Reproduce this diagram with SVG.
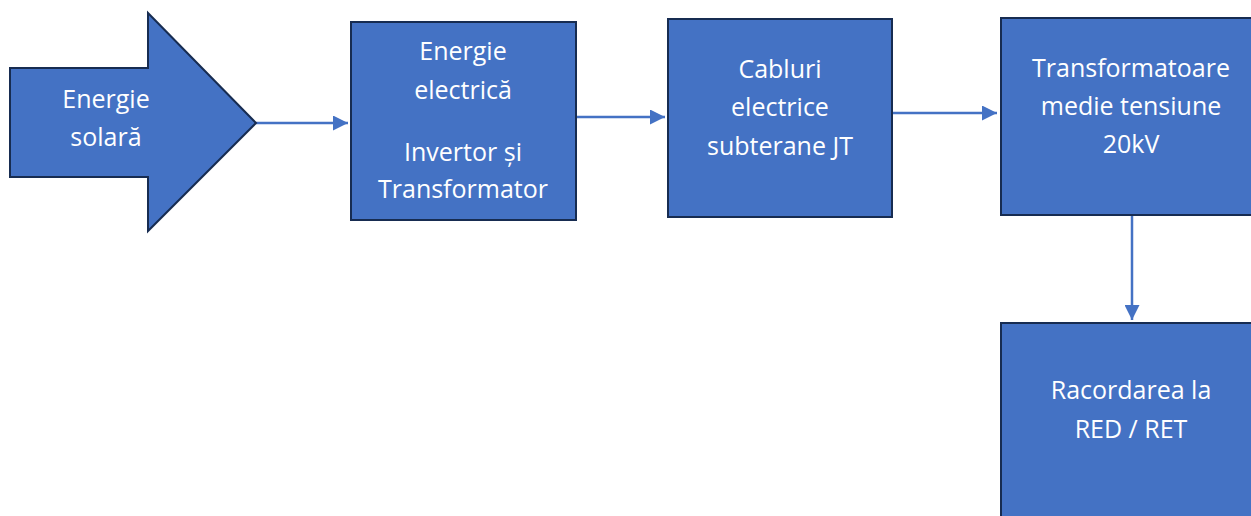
<svg xmlns="http://www.w3.org/2000/svg" width="1251" height="516" viewBox="0 0 1251 516">
<defs>
<style>
.n{fill:#4472C4;stroke:#172C51;stroke-width:2}
.t{fill:#fff;font-family:"Open Sans","Noto Sans",sans-serif;font-size:25px;text-anchor:middle}
.c{stroke:#4472C4;stroke-width:2.5;fill:none;marker-end:url(#ah)}
</style>
<marker id="ah" viewBox="0 0 10 10" refX="10" refY="5" markerWidth="6" markerHeight="6" markerUnits="strokeWidth" orient="auto">
<path d="M0,0 L10,5 L0,10 z" fill="#4472C4"/>
</marker>
</defs>
<rect width="1251" height="516" fill="#fff"/>
<g id="connectors">
<line class="c" x1="256" y1="123" x2="348" y2="123"/>
<line class="c" x1="576" y1="117" x2="665" y2="117"/>
<line class="c" x1="892" y1="113" x2="997" y2="113"/>
<line class="c" x1="1132" y1="216" x2="1132" y2="320"/>
</g>
<g id="solar">
<polygon class="n" points="10,68 148,68 148,13 256,123 148,231 148,177 10,177"/>
<text class="t" x="106" y="108">Energie</text>
<text class="t" x="106" y="146">solară</text>
</g>
<g id="inverter">
<rect class="n" x="351" y="22" width="225" height="198"/>
<text class="t" x="463" y="60">Energie</text>
<text class="t" x="463" y="99">electrică</text>
<text class="t" x="463" y="161">Invertor și</text>
<text class="t" x="463" y="198">Transformator</text>
</g>
<g id="cables">
<rect class="n" x="668" y="19" width="224" height="198"/>
<text class="t" x="780" y="78">Cabluri</text>
<text class="t" x="780" y="116">electrice</text>
<text class="t" x="780" y="155">subterane JT</text>
</g>
<g id="mvtransformers">
<rect class="n" x="1001" y="18" width="260" height="197"/>
<text class="t" x="1131" y="77">Transformatoare</text>
<text class="t" x="1131" y="115">medie tensiune</text>
<text class="t" x="1131" y="153">20kV</text>
</g>
<g id="grid">
<rect class="n" x="1001" y="323" width="260" height="210"/>
<text class="t" x="1131" y="399">Racordarea la</text>
<text class="t" x="1131" y="438">RED / RET</text>
</g>
</svg>
